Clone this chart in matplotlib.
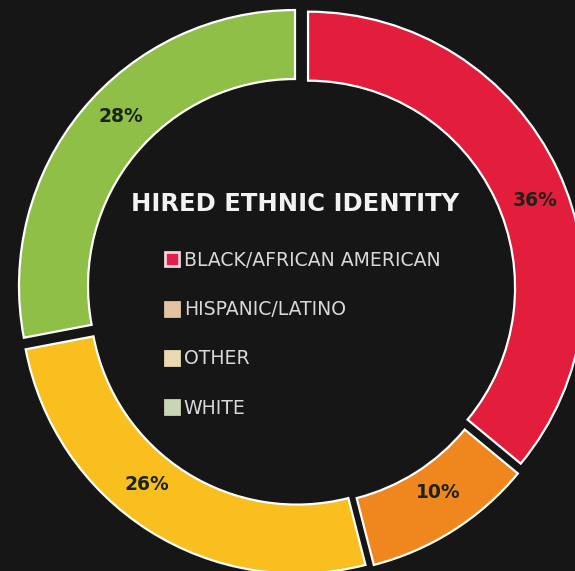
import matplotlib
matplotlib.use('Agg')
import matplotlib.pyplot as plt
from matplotlib.lines import Line2D

plt.rcParams['font.family'] = ['DejaVu Sans']

categories = ['BLACK/AFRICAN AMERICAN', 'HISPANIC/LATINO', 'OTHER', 'WHITE']
shares = [36, 10, 26, 28]
slice_colors = ['#e31e3c', '#f0861e', '#f8bf1e', '#8fbf47']
legend_fill = ['#e31e4a', '#e4c3a4', '#ead9b3', '#c9d6b6']
legend_edge = ['#f3d3dc', '#e4c3a4', '#ead9b3', '#c9d6b6']
pct_labels = ['36%', '10%', '26%', '28%']

bg = '#161616'
W, H = 575, 571

fig = plt.figure(figsize=(W / 100, H / 100), dpi=100, facecolor=bg)
ax = fig.add_axes([0, 0, 1, 1])
ax.set_facecolor(bg)

# donut, clockwise from 12 o'clock, slightly pulled apart
ax.pie(shares, colors=slice_colors, startangle=90, counterclock=False,
       radius=276, center=(301, H - 291), explode=[7.8] * 4,
       wedgeprops=dict(width=69, edgecolor='white', linewidth=1.6))

ax.set_xlim(0, W)
ax.set_ylim(0, H)
ax.set_aspect('equal')
ax.axis('off')

# percentage labels (pixel positions in the picture)
label_pos = [(535, 201), (438, 493), (147, 484), (121, 116)]
for txt, (px, py) in zip(pct_labels, label_pos):
    ax.text(px, H - py, txt, ha='center', va='center', fontsize=13.5,
            fontweight='bold', color='#1c231a')

ax.text(295, H - 204, 'HIRED ETHNIC IDENTITY', ha='center', va='center',
        fontsize=17.5, fontweight='bold', color='#f2f2f2')

handles = [Line2D([], [], linestyle='none', marker='s', markersize=9.5,
                  markerfacecolor=f, markeredgecolor=e, markeredgewidth=2)
           for f, e in zip(legend_fill, legend_edge)]
leg = ax.legend(handles, categories, loc='upper left',
                bbox_to_anchor=(164 / W, 1 - 251 / H), frameon=False,
                fontsize=13.6, labelcolor='#d9d9d9', handlelength=0.8,
                handletextpad=0.25, labelspacing=1.6, borderpad=0,
                borderaxespad=0)

fig.savefig('out.png', dpi=100, facecolor=bg)
